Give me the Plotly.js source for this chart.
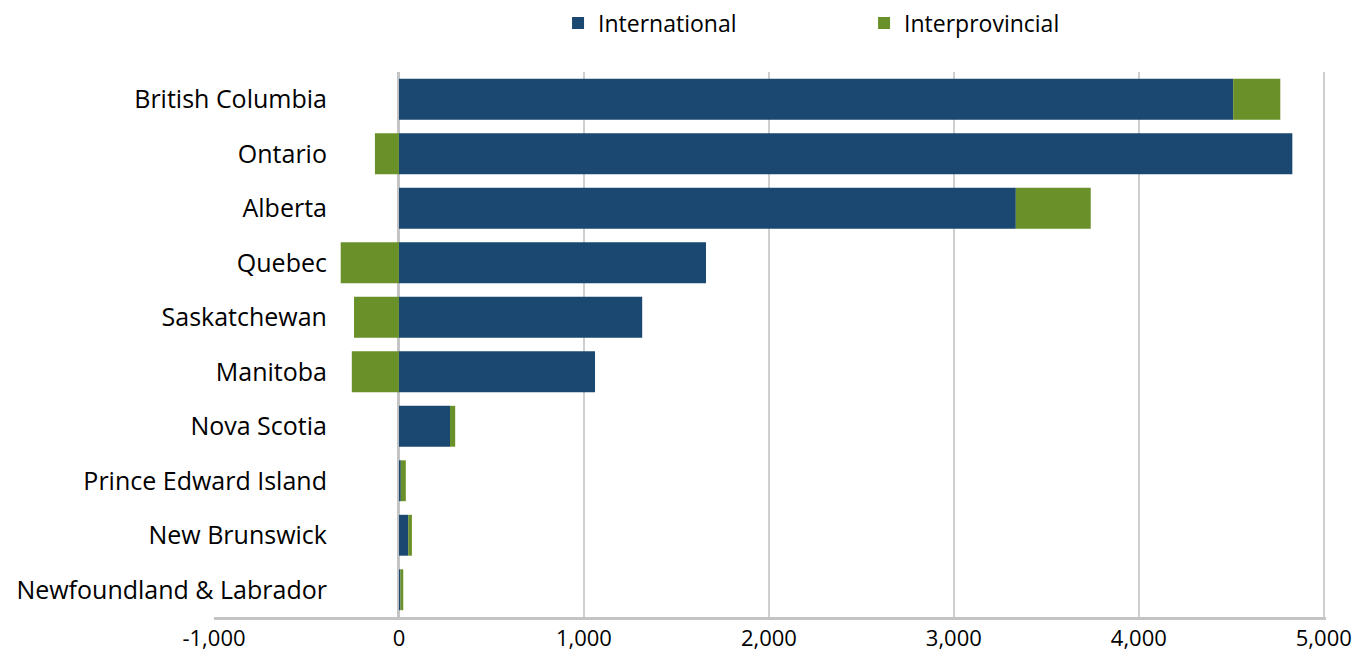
<!DOCTYPE html>
<html>
<head>
<meta charset="utf-8">
<script src="https://cdn.plot.ly/plotly-3.0.1.min.js"></script>
<style>html,body{margin:0;padding:0;background:#fff;}#chart{width:1365px;height:657px;}</style>
</head>
<body>
<div id="chart"></div>
<script>
const provinces = ["British Columbia","Ontario","Alberta","Quebec","Saskatchewan","Manitoba","Nova Scotia","Prince Edward Island","New Brunswick","Newfoundland & Labrador"];
const international = [4510, 4830, 3335, 1660, 1315, 1060, 276, 10, 50, 8];
const interprovincial = [255, -130, 405, -315, -243, -255, 28, 27, 20, 15];
const tickValues = [-1000, 0, 1000, 2000, 3000, 4000, 5000];
const tickLabels = ["-1,000", "0", "1,000", "2,000", "3,000", "4,000", "5,000"];

const traces = [
  {type: "bar", orientation: "h", name: "International", y: provinces, x: international,
   marker: {color: "#1a4870"}, hoverinfo: "skip"},
  {type: "bar", orientation: "h", name: "Interprovincial", y: provinces, x: interprovincial,
   marker: {color: "#6a9129"}, hoverinfo: "skip"}
];

const layout = {
  width: 1365, height: 657,
  margin: {l: 214, r: 39, t: 72, b: 40},
  paper_bgcolor: "#ffffff", plot_bgcolor: "#ffffff",
  font: {family: "'Open Sans', sans-serif", color: "#000000"},
  barmode: "relative", bargap: 0.25,
  showlegend: true,
  legend: {orientation: "h", xref: "container", yref: "container", x: 0.633, xanchor: "center",
           y: 0.965, yanchor: "middle", font: {size: 23, color: "#000"}, entrywidth: 261,
           traceorder: "normal"},
  xaxis: {range: [-1000, 5012], tickvals: tickValues, ticktext: tickLabels,
          showgrid: true, gridcolor: "#cfcfcf", gridwidth: 2,
          zeroline: true, zerolinecolor: "#c4c4c4", zerolinewidth: 3,
          showline: true, linecolor: "#c4c4c4", linewidth: 3,
          ticks: "", tickfont: {size: 22, color: "#000"}, fixedrange: true},
  yaxis: {categoryorder: "array", categoryarray: provinces, autorange: "reversed",
          anchor: "free", position: 1/6.012, showgrid: false, zeroline: false, showline: false,
          ticks: "", ticklabelstandoff: 72, tickfont: {size: 25, color: "#000"}, fixedrange: true}
};

Plotly.newPlot("chart", traces, layout, {displayModeBar: false, staticPlot: true});
</script>
</body>
</html>
